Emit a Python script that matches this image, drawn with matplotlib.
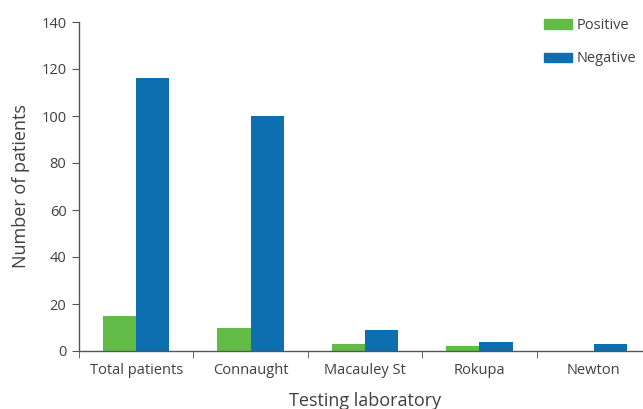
import numpy as np
import matplotlib.pyplot as plt
from matplotlib.patches import Patch

labs = ['Total patients', 'Connaught', 'Macauley St', 'Rokupa', 'Newton']
positive = [15, 10, 3, 2, 0]
negative = [116, 100, 9, 4, 3]

plt.rcParams['font.family'] = ['Open Sans', 'DejaVu Sans']
txt = '#404040'
green = '#62bb46'
blue = '#0d6eb0'

fig = plt.figure(figsize=(6.43, 4.09), dpi=100)
ax = fig.add_axes([79/643, 58/409, 572/643, 329/409])

x = np.arange(len(labs))
w = 0.29
ax.bar(x - w/2, positive, w, color=green, label='Positive')
ax.bar(x + w/2, negative, w, color=blue, label='Negative')

ax.set_xlim(-0.5, 4.5)
ax.set_ylim(0, 140)
ax.set_yticks(range(0, 141, 20))
ax.set_xticks(x)
ax.set_xticklabels(labs)
ax.set_xticks(np.arange(-0.5, 4.6, 1), minor=True)
ax.tick_params(axis='x', which='major', length=0, pad=9, labelsize=10.5, labelcolor=txt)
ax.tick_params(axis='x', which='minor', length=5, color='#555555', direction='out')
ax.tick_params(axis='y', length=5, color='#555555', labelsize=10.5, labelcolor=txt, pad=4)

for s in ['top', 'right']:
    ax.spines[s].set_visible(False)
for s in ['left', 'bottom']:
    ax.spines[s].set_color('#555555')
    ax.spines[s].set_linewidth(1.0)

ax.set_ylabel('Number of patients', fontsize=13, color=txt, labelpad=8)
ax.set_xlabel('Testing laboratory', fontsize=13, color=txt, labelpad=10)

handles = [Patch(color=green), Patch(color=blue)]
fig.legend(handles, ['Positive', 'Negative'], loc='upper left',
           bbox_to_anchor=(531/643, 1 - 5/409), frameon=False,
           fontsize=10.5, labelcolor=txt, handlelength=1.9, handleheight=0.6,
           handletextpad=0.35, labelspacing=1.25)

fig.savefig('out.png', dpi=100)
